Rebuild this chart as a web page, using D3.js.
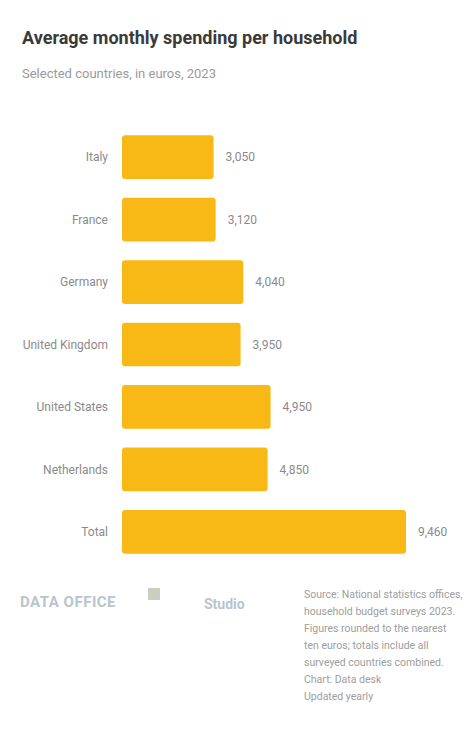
<!DOCTYPE html>
<html><head><meta charset="utf-8">
<script src="https://cdn.jsdelivr.net/npm/d3@7"></script>
<style>
html,body{margin:0;padding:0;background:#fff;}
svg{display:block;font-family:Roboto, "Noto Sans", sans-serif;}
</style></head>
<body>
<svg id="chart" width="474" height="729"></svg>
<script>
const categories = ["Italy", "France", "Germany", "United Kingdom", "United States", "Netherlands", "Total"];
const values = [3050, 3120, 4040, 3950, 4950, 4850, 9460];
const valueLabels = ["3,050", "3,120", "4,040", "3,950", "4,950", "4,850", "9,460"];
const titleText = "Average monthly spending per household";
const subtitleText = "Selected countries, in euros, 2023";
const sourceLines = ["Source: National statistics offices,", "household budget surveys 2023.", "Figures rounded to the nearest", "ten euros; totals include all", "surveyed countries combined.", "Chart: Data desk", "Updated yearly"];

const svg = d3.select("#chart");

svg.append("text").attr("x", 22).attr("y", 44)
  .attr("font-size", 18).attr("font-weight", 700).attr("fill", "#3a3a3a")
  .text(titleText);
svg.append("text").attr("x", 22).attr("y", 78)
  .attr("font-size", 13).attr("fill", "#9a9a9a")
  .text(subtitleText);

const x = d3.scaleLinear().domain([0, d3.max(values)]).range([122, 406]);
const y = d3.scaleBand().domain(categories).range([126, 563]).paddingInner(0.3).paddingOuter(0.15);

const g = svg.append("g");
g.selectAll("rect.bar").data(categories).join("rect")
  .attr("class", "bar")
  .attr("x", x(0))
  .attr("y", d => y(d))
  .attr("width", (d, i) => x(values[i]) - x(0))
  .attr("height", y.bandwidth())
  .attr("rx", 3)
  .attr("fill", "#F8B916");

g.selectAll("text.cat").data(categories).join("text")
  .attr("class", "cat")
  .attr("x", 108)
  .attr("y", d => y(d) + y.bandwidth() / 2)
  .attr("dy", "0.35em")
  .attr("text-anchor", "end")
  .attr("font-size", 12).attr("fill", "#8a8a8a")
  .text(d => d);

g.selectAll("text.val").data(categories).join("text")
  .attr("class", "val")
  .attr("x", (d, i) => x(values[i]) + 12)
  .attr("y", d => y(d) + y.bandwidth() / 2)
  .attr("dy", "0.35em")
  .attr("font-size", 12).attr("fill", "#8a8a8a")
  .text((d, i) => valueLabels[i]);

// footer
svg.append("text").attr("x", 20).attr("y", 607)
  .attr("font-size", 15).attr("font-weight", 700).attr("fill", "#b9c4cd")
  .attr("letter-spacing", 0.5)
  .text("DATA OFFICE");
svg.append("rect").attr("x", 148).attr("y", 588).attr("width", 12).attr("height", 12)
  .attr("fill", "#c9cfc0");
svg.append("text").attr("x", 204).attr("y", 609)
  .attr("font-size", 14).attr("font-weight", 700).attr("fill", "#b9c4cd")
  .text("Studio");

svg.append("g").selectAll("text").data(sourceLines).join("text")
  .attr("x", 304).attr("y", (d, i) => 598 + i * 17)
  .attr("font-size", 10.5).attr("fill", "#9d9d9d")
  .text(d => d);
</script>
</body></html>
